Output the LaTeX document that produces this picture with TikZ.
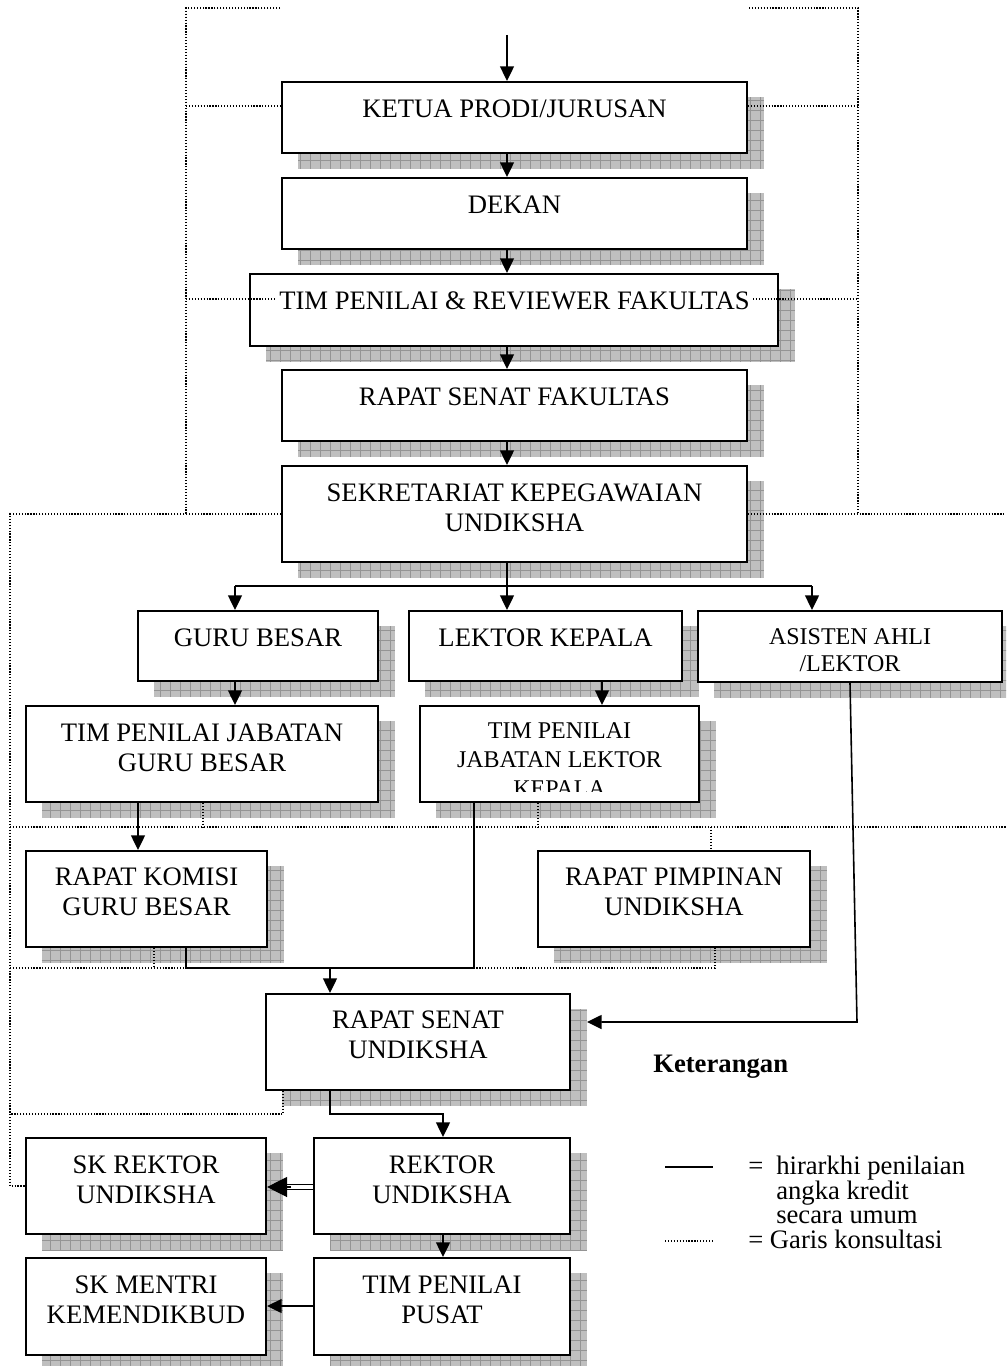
\documentclass[tikz,border=0pt]{standalone}
\usepackage{fontspec}
\setmainfont{Liberation Serif}
\usetikzlibrary{arrows.meta,fit,calc}
\tikzset{
  shadowfill/.style={fill=black!25},
  shadowgrid/.style={draw=black!42,line width=0.45pt},
  boxst/.style={draw,line width=1.6pt,fill=white,inner sep=0pt,rectangle},
  txt/.style={anchor=north,align=center,inner sep=0pt,font=\fontsize{20pt}{22.5pt}\selectfont},
  smalltxt/.style={font=\fontsize{18pt}{20.25pt}\selectfont},
  smallwide/.style={font=\fontsize{18pt}{22pt}\selectfont},
  leg/.style={anchor=base west,inner sep=0pt,font=\fontsize{20pt}{24pt}\selectfont},
  conn/.style={line width=1.2pt},
  arr/.style={conn,-{Triangle[length=11pt,width=10.5pt]}},
  dotl/.style={line width=0.9pt,dash pattern=on 0.9pt off 1.3pt},
}
\newcommand{\bx}[5]{%
  \fill[shadowfill] (#2+16,#3+15) rectangle (#4+17,#5+16);
  \draw[shadowgrid,step=7.5pt] (#2+16,#5+16) grid (#4+17,#3+15);
  \node[boxst,fit={(#2,#3) (#4,#5)}] (#1) {};
}
\begin{document}
\begin{tikzpicture}[x=0.75pt,y=-0.75pt]
\useasboundingbox (0,0) rectangle (1006,1366);
\begin{scope}
\clip (0,0) rectangle (1006,1366);
% ---------- boxes ----------
\bx{ketua}{282}{82}{747}{153}
\bx{dekan}{282}{178}{747}{249}
\bx{timfak}{250}{274}{778}{346}
\bx{rsf}{282}{370}{747}{441}
\bx{sek}{282}{466}{747}{562}
\bx{gb}{138}{611}{378}{681}
\bx{lk}{409}{611}{682}{681}
\bx{asis}{698}{611}{1002}{682}
\bx{timgb}{26}{706}{378}{802}
\bx{timlk}{420}{706}{699}{802}
\bx{rkom}{26}{851}{267}{947}
\bx{rpim}{538}{851}{810}{947}
\bx{rsu}{266}{994}{570}{1090}
\bx{skr}{26}{1138}{266}{1234}
\bx{rek}{314}{1138}{570}{1234}
\bx{skm}{26}{1258}{266}{1355}
\bx{tpp}{314}{1258}{570}{1355}
% ---------- texts ----------
\node[txt] (ketuaT) at (514.5,98.3) {\rule{0pt}{14pt}KETUA PRODI/JURUSAN};
\node[txt] (dekanT) at (514.5,194.3) {\rule{0pt}{14pt}DEKAN};
\node[txt] (timfakT) at (514.5,290.3) {\rule{0pt}{14pt}TIM PENILAI \& REVIEWER FAKULTAS};
\node[txt] (rsfT) at (514.5,386.3) {\rule{0pt}{14pt}RAPAT SENAT FAKULTAS};
\node[txt] (sekT) at (514.5,482.3) {\rule{0pt}{14pt}SEKRETARIAT KEPEGAWAIAN\\UNDIKSHA};
\node[txt] (gbT) at (258,627.3) {\rule{0pt}{14pt}GURU BESAR};
\node[txt] (lkT) at (545.5,627.3) {\rule{0pt}{14pt}LEKTOR KEPALA};
\node[txt,smalltxt] (asisT) at (850,625.3) {\rule{0pt}{14pt}ASISTEN AHLI\\/LEKTOR};
\node[txt] (timgbT) at (202,722.3) {\rule{0pt}{14pt}TIM PENILAI JABATAN\\GURU BESAR};
\begin{scope}
\clip (421,707) rectangle (698,791);
\node[txt,smallwide] (timlkT) at (559.5,719.3) {\rule{0pt}{14pt}TIM PENILAI\\JABATAN LEKTOR\\KEPALA};
\end{scope}
\node[txt] (rkomT) at (146.5,866.3) {\rule{0pt}{14pt}RAPAT KOMISI\\GURU BESAR};
\node[txt] (rpimT) at (674,866.3) {\rule{0pt}{14pt}RAPAT PIMPINAN\\UNDIKSHA};
\node[txt] (rsuT) at (418,1009.3) {\rule{0pt}{14pt}RAPAT SENAT\\UNDIKSHA};
\node[txt] (skrT) at (146,1154.3) {\rule{0pt}{14pt}SK REKTOR\\UNDIKSHA};
\node[txt] (rekT) at (442,1154.3) {\rule{0pt}{14pt}REKTOR\\UNDIKSHA};
\node[txt] (skmT) at (146,1274.3) {\rule{0pt}{14pt}SK MENTRI\\KEMENDIKBUD};
\node[txt] (tppT) at (442,1274.3) {\rule{0pt}{14pt}TIM PENILAI\\PUSAT};
% ---------- dotted consultation lines ----------
\coordinate (d1) at (280,8);
\coordinate (d2) at (186,8);
\coordinate (d3) at (186,514);
\coordinate (d4) at (10,514);
\coordinate (d5) at (10,1186);
\draw[dotl] (d1) -- (d2) -- (d3);
\draw[dotl] (sek.west |- d4) -- (d4) -- (d5) -- (d5 -| skr.west);
\coordinate (d6) at (186,106);
\draw[dotl] (d6) -- (d6 -| ketua.west);
\coordinate (d7) at (858,8);
\coordinate (d8) at (749,8);
\coordinate (d9) at (858,514);
\coordinate (d10) at (1006,514);
\draw[dotl] (d8) -- (d7) -- (d9);
\draw[dotl] (sek.east |- d10) -- (d10);
\coordinate (d11) at (858,106);
\draw[dotl] (ketua.east |- d11) -- (d11);
\coordinate (d12) at (186,299);
\coordinate (d13) at (276,299);
\coordinate (d14) at (753,299);
\coordinate (d15) at (858,299);
\draw[dotl] (d12) -- (d13);
\draw[dotl] (d14) -- (d15);
\coordinate (d16) at (10,827);
\coordinate (d17) at (1006,827);
\draw[dotl] (d16) -- (d17);
\coordinate (v1) at (203,827);
\draw[dotl] (v1 |- timgb.south) -- (v1);
\coordinate (v2) at (538,827);
\draw[dotl] (v2 |- timlk.south) -- (v2);
\coordinate (v3) at (711,827);
\draw[dotl] (v3) -- (v3 |- rpim.north);
\coordinate (d18) at (10,968);
\coordinate (v4) at (154,968);
\coordinate (v5) at (715,968);
\draw[dotl] (d18) -- (v5) -- (v5 |- rpim.south);
\draw[dotl] (v4 |- rkom.south) -- (v4);
\coordinate (v6) at (283,1114);
\draw[dotl] (v6 |- rsu.south) -- (v6) -- (v6 -| d18);
% ---------- solid hierarchy connectors ----------
\coordinate (c0) at (507,35);
\draw[arr] (c0) -- (c0 |- ketua.north);
\draw[arr] (c0 |- ketua.south) -- (c0 |- dekan.north);
\draw[arr] (c0 |- dekan.south) -- (c0 |- timfak.north);
\draw[arr] (c0 |- timfak.south) -- (c0 |- rsf.north);
\draw[arr] (c0 |- rsf.south) -- (c0 |- sek.north);
\coordinate (j0) at (235,586);
\coordinate (j1) at (507,586);
\coordinate (j2) at (812,586);
\draw[conn] (c0 |- sek.south) -- (j1);
\draw[conn] (j0) -- (j2);
\draw[arr] (j0) -- (j0 |- gb.north);
\draw[arr] (j1) -- (j1 |- lk.north);
\draw[arr] (j2) -- (j2 |- asis.north);
\draw[arr] (j0 |- gb.south) -- (j0 |- timgb.north);
\coordinate (l1) at (602,700);
\draw[arr] (l1 |- lk.south) -- (l1 |- timlk.north);
\coordinate (t1) at (138,820);
\draw[arr] (t1 |- timgb.south) -- (t1 |- rkom.north);
\coordinate (k1) at (186,968);
\coordinate (k2) at (474,968);
\coordinate (k3) at (330,968);
\draw[conn] (k1 |- rkom.south) -- (k1) -- (k2) -- (k2 |- timlk.south);
\draw[arr] (k3) -- (k3 |- rsu.north);
\coordinate (a1) at (850,700);
\coordinate (a2) at (857,1022);
\coordinate (a3) at (587,1022);
\draw[arr] (a1 |- asis.south) -- (a2) -- (a3);
\coordinate (r1) at (330,1114);
\coordinate (r2) at (443,1114);
\draw[arr] (r1 |- rsu.south) -- (r1) -- (r2) -- (r2 |- rek.north);
\draw[arr] (r2 |- rek.south) -- (r2 |- tpp.north);
\coordinate (e1) at (300,1187);
\coordinate (e2) at (rek.west |- e1);
\coordinate (e3) at (skr.east |- e1);
\draw[line width=1pt] ($(e2)+(0,-2.8)$) -- ($(e3)+(18,-2.8)$);
\draw[line width=1pt] ($(e2)+(0,2.8)$) -- ($(e3)+(18,2.8)$);
\draw[line width=0.9pt,-{Triangle[length=15pt,width=15pt]}] ($(e3)+(24,0)$) -- (e3);
\coordinate (e4) at (300,1306);
\draw[arr] (tpp.west |- e4) -- (skm.east |- e4);
% ---------- legend ----------
\node[leg,font=\fontsize{20pt}{24pt}\selectfont\bfseries] (ket) at (653,1072) {Keterangan};
\coordinate (L1) at (665,1167);
\coordinate (L2) at (713,1167);
\draw[line width=1pt] (L1) -- (L2);
\node[leg] (leq1) at (748,1174) {=};
\node[leg] (lt1) at (776,1174) {hirarkhi penilaian};
\node[leg] (lt2) at (776,1199) {angka kredit};
\node[leg] (lt3) at (776,1223) {secara umum};
\coordinate (L3) at (665,1241);
\coordinate (L4) at (713,1241);
\draw[dotl] (L3) -- (L4);
\node[leg] (lt4) at (748,1248) {= Garis konsultasi};
\end{scope}
\end{tikzpicture}
\end{document}
